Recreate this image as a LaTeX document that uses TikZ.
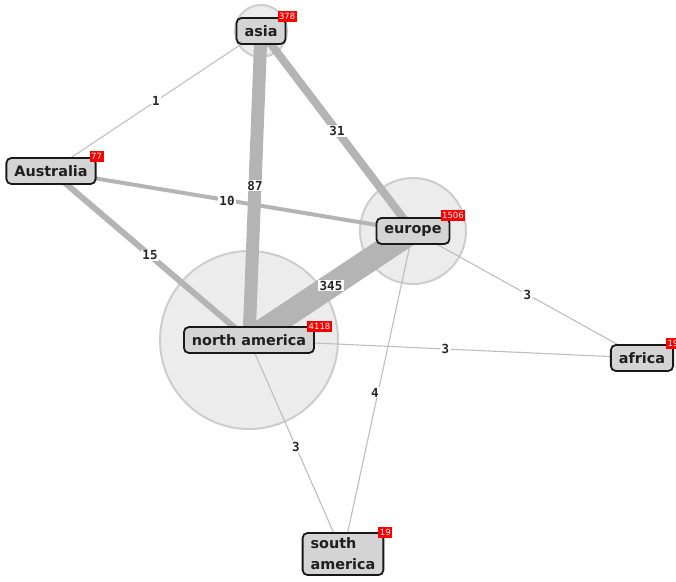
\documentclass[tikz,border=0pt]{standalone}
\usepackage{fontspec}
\setmainfont{DejaVu Sans}
\newfontfamily\lblfont{DejaVu Sans Mono}
\definecolor{edgec}{RGB}{180,180,180}
\definecolor{thinc}{RGB}{190,190,190}
\definecolor{circf}{RGB}{236,236,236}
\definecolor{circd}{RGB}{205,205,205}
\definecolor{boxf}{RGB}{212,212,212}
\begin{document}
\begin{tikzpicture}[x=1pt,y=-1pt,
  bub/.style={circle,fill=circf,draw=circd,line width=2pt,inner sep=0pt,minimum size=#1},
  edge/.style={draw=edgec,line width=#1},
  thin edge/.style={draw=thinc,line width=1.1pt},
  lbl/.style={fill=white,inner xsep=1.5pt,inner ysep=1pt,text=black!85,font=\lblfont\bfseries\fontsize{12.5}{14}\selectfont},
  cont/.style={draw=black!90,line width=1.8pt,rounded corners=5pt,fill=boxf,inner xsep=8pt,inner ysep=2pt,minimum height=26pt,text=black!88,font=\bfseries\fontsize{14.4}{21}\selectfont},
  badge/.style={fill=red,text=white,inner xsep=1.5pt,inner ysep=1pt,minimum height=11pt,anchor=south west,font=\fontsize{8.5}{8.5}\selectfont}]
\useasboundingbox (0,0) rectangle (676,581);
\coordinate (cAs) at (261,31);
\coordinate (cAu) at (51,171);
\coordinate (cEu) at (413,231);
\coordinate (cNa) at (249,340);
\coordinate (cAf) at (642,358);
\coordinate (cSa) at (343,554);
% bubbles
\node[bub=52pt] (bAs) at (cAs) {};
\node[bub=106pt] (bEu) at (cEu) {};
\node[bub=178pt] (bNa) at (cNa) {};
% edges
\draw[thin edge] (cAs) -- (cAu);
\draw[edge=8pt] (cAs) -- (cEu);
\draw[edge=13pt] (cAs) -- (cNa);
\draw[edge=4pt] (cAu) -- (cEu);
\draw[edge=6pt] (cAu) -- (cNa);
\draw[edge=24pt] (cEu) -- (cNa);
\draw[thin edge] (cEu) -- (cAf);
\draw[thin edge] (cNa) -- (cAf);
\draw[thin edge] (cNa) -- (cSa);
\draw[thin edge] (cEu) -- (cSa);
% edge labels
\path (cAs) -- (cAu) node[midway,lbl] (l1) {1};
\path (cAs) -- (cEu) node[midway,lbl] (l2) {31};
\path (cAs) -- (cNa) node[midway,lbl] (l3) {87};
\path (cAu) -- (cEu) node[midway,lbl,xshift=-5pt] (l4) {10};
\path (cAu) -- (cNa) node[midway,lbl] (l5) {15};
\path (cEu) -- (cNa) node[midway,lbl] (l6) {345};
\path (cEu) -- (cAf) node[midway,lbl] (l7) {3};
\path (cNa) -- (cAf) node[midway,lbl] (l8) {3};
\path (cNa) -- (cSa) node[midway,lbl] (l9) {3};
\path (cEu) -- (cSa) node[midway,lbl,xshift=-3pt] (l10) {4};
% continent boxes
\node[cont] (asia) at (cAs) {asia};
\node[cont] (aus) at (cAu) {Australia};
\node[cont] (eur) at (cEu) {europe};
\node[cont] (nam) at (cNa) {north america};
\node[cont] (afr) at (cAf) {africa};
\node[cont,align=left,inner ysep=5pt] (sam) at (cSa) {south\\america};
% badges
\node[badge] (kAs) at ([xshift=-9pt,yshift=-5pt]asia.north east) {378};
\node[badge] (kAu) at ([xshift=-7pt,yshift=-5pt]aus.north east) {77};
\node[badge] (kEu) at ([xshift=-10pt,yshift=-4pt]eur.north east) {1506};
\node[badge] (kNa) at ([xshift=-8pt,yshift=-6pt]nam.north east) {4118};
\node[badge] (kAf) at ([xshift=-8pt,yshift=-5pt]afr.north east) {19};
\node[badge] (kSa) at ([xshift=-6pt,yshift=-6pt]sam.north east) {19};
\end{tikzpicture}
\end{document}
